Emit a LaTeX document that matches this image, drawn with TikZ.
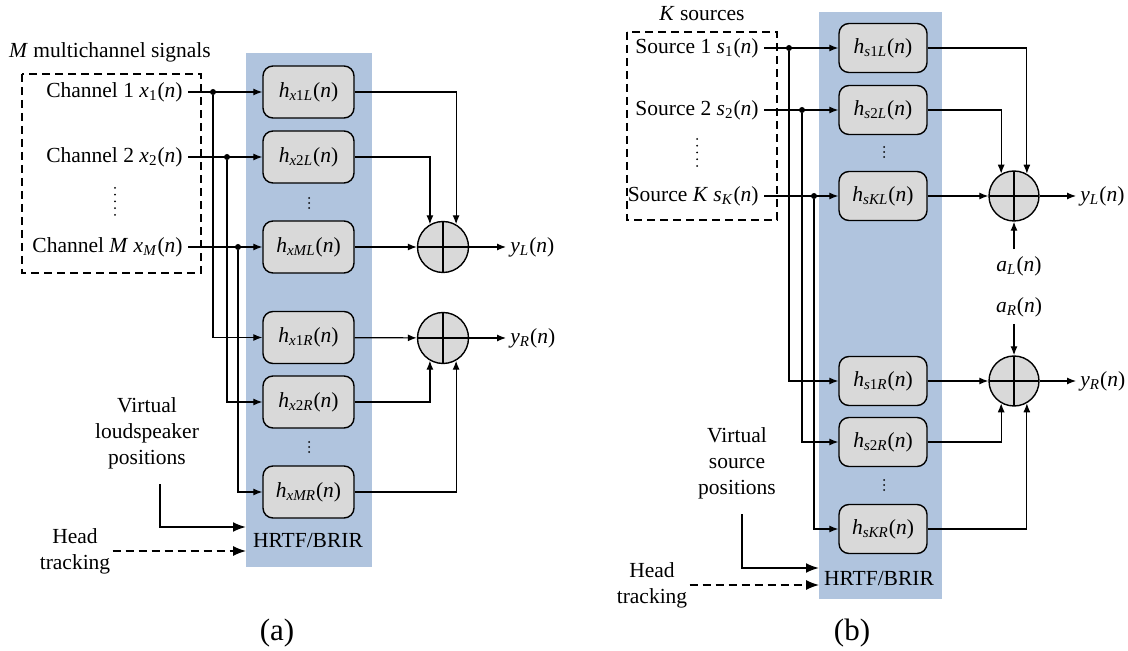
\documentclass[tikz,border=0pt]{standalone}
\usepackage{fontspec}
\setmainfont{Liberation Serif}
\usetikzlibrary{positioning,arrows.meta}
\definecolor{Band}{RGB}{176,196,222}
\definecolor{Fill}{RGB}{217,217,217}
\newcommand{\sg}[2]{\textit{#1}\textsubscript{#2}(\textit{n})}

\begin{document}
\begin{tikzpicture}[x=.5pt,y=-.5pt,font=\fontsize{10.75pt}{13pt}\selectfont,
 box/.style={draw,rounded corners=5pt,fill=Fill,line width=.7pt,minimum width=45.5pt,minimum height=26pt,inner sep=0pt},
 sum/.style={circle,draw,fill=Fill,line width=.7pt,minimum size=25.5pt,inner sep=0pt,
  path picture={\draw[line width=.7pt] (path picture bounding box.north)--(path picture bounding box.south)
   (path picture bounding box.west)--(path picture bounding box.east);}},
 dot/.style={circle,fill,inner sep=0pt,minimum size=3pt},
 src/.style={anchor=east,inner sep=2.5pt},
 yo/.style={anchor=west,inner sep=2pt},
 lbl/.style={align=center,inner sep=1pt},
 sublbl/.style={font=\fontsize{15.5pt}{18pt}\selectfont},
 grp/.style={line width=.75pt,dash pattern=on 4pt off 2.5pt},
 a/.style={-{Latex[length=4.5pt,width=3.5pt]},line width=.6pt},
 ta/.style={-{Latex[length=6.5pt,width=5pt]},line width=1pt},
 vd/.style={line width=1pt,line cap=round,dash pattern=on 0pt off 2.5pt}]
\useasboundingbox (0,0) rectangle (1128,651);

% (a) multichannel
\fill[Band] (246,53) rectangle (372,567);
\node at (110,52) {\textit{M} multichannel signals};
\draw[grp] (22,74) rectangle (201,273);
\node[src] (c1) at (188,92) {Channel 1 \sg{x}{1}};
\node[src] (c2) at (188,157) {Channel 2 \sg{x}{2}};
\node[src] (cM) at (188,247) {Channel \textit{M} \sg{x}{\textit{M}}};
\draw[vd,dash pattern=on 0pt off 3.375pt] (115,188) -- (115,215);
\node[dot] (j1) at (213,92) {};
\node[dot] (j2) at (227,157) {};
\node[dot] (jM) at (238,247) {};
\node[box] (hL1) at (308.5,92) {\sg{h}{\textit{x}1\textit{L}}};
\node[box] (hL2) at (308.5,157) {\sg{h}{\textit{x}2\textit{L}}};
\node[box] (hLM) at (308.5,247) {\sg{h}{\textit{xML}}};
\node[box] (hR1) at (308.5,337.5) {\sg{h}{\textit{x}1\textit{R}}};
\node[box] (hR2) at (308.5,402) {\sg{h}{\textit{x}2\textit{R}}};
\node[box] (hRM) at (308.5,492) {\sg{h}{\textit{xMR}}};
\draw[vd] (309,198) -- (309,208);
\draw[vd] (309,442) -- (309,452);
\node[sum] (sL) at (443,247) {};
\node[sum] (sR) at (443,338) {};
\node[yo] (yL) at (506,247) {\sg{y}{\textit{L}}};
\node[yo] (yR) at (506,338) {\sg{y}{\textit{R}}};
\draw[a] (c1) -- (hL1); \draw[a] (c2) -- (hL2); \draw[a] (cM) -- (hLM);
\draw[a] (j1) |- (hR1); \draw[a] (j2) |- (hR2); \draw[a] (jM) |- (hRM);
\draw[a] (hL1) -| (sL.60); \draw[a] (hL2) -| (sL.120); \draw[a] (hLM) -- (sL);
\draw[a] (hR1) -- (sR); \draw[a] (hR2) -| (sR.240); \draw[a] (hRM) -| (sR.300);
\draw[a] (sL) -- (yL); \draw[a] (sR) -- (yR);
\node[lbl] (vp) at (147,433) {Virtual\\loudspeaker\\positions};
\coordinate (va) at (246,527);
\draw[ta] ([xshift=6.5pt,yshift=-6.5pt]vp.south) |- (va);
\node[lbl] (ht) at (75,551) {Head\\tracking};
\coordinate (ha) at (246,551);
\draw[ta,line width=.7pt,dash pattern=on 4pt off 2.5pt] (ht) -- (ha);
\node (hb) at (308,541) {HRTF/BRIR};
\node[sublbl] (la) at (277,633) {(a)};

% (b) object based
\fill[Band] (819,12) rectangle (942,599);
\node at (702,14) {\textit{K} sources};
\draw[grp] (627,32) rectangle (777,220);
\node[src] (s1) at (764,48) {Source 1 \sg{s}{1}};
\node[src] (s2) at (764,110) {Source 2 \sg{s}{2}};
\node[src] (sK) at (764,196) {Source \textit{K} \sg{s}{\textit{K}}};
\draw[vd,dash pattern=on 0pt off 3.375pt] (697,139) -- (697,166);
\node[dot] (k1) at (789,48) {};
\node[dot] (k2) at (802,110) {};
\node[dot] (kK) at (814,196) {};
\begin{scope}[box/.append style={minimum width=44pt,minimum height=24.5pt}]
\node[box] (gL1) at (883,48) {\sg{h}{\textit{s}1\textit{L}}};
\node[box] (gL2) at (883,110) {\sg{h}{\textit{s}2\textit{L}}};
\node[box] (gLK) at (883,196) {\sg{h}{\textit{sKL}}};
\node[box] (gR1) at (883,381) {\sg{h}{\textit{s}1\textit{R}}};
\node[box] (gR2) at (883,442) {\sg{h}{\textit{s}2\textit{R}}};
\node[box] (gRK) at (883,529) {\sg{h}{\textit{sKR}}};
\end{scope}
\draw[vd] (884,147) -- (884,157);
\draw[vd] (884,480) -- (884,490);
\node[sum,minimum size=25pt] (tL) at (1014,196) {};
\node[sum,minimum size=25pt] (tR) at (1014,381) {};
\node[yo] (zL) at (1076,196) {\sg{y}{\textit{L}}};
\node[yo] (zR) at (1076,381) {\sg{y}{\textit{R}}};
\node (aL) at (1019,266) {\sg{a}{\textit{L}}};
\node (aR) at (1019,307) {\sg{a}{\textit{R}}};
\draw[a] (s1) -- (gL1); \draw[a] (s2) -- (gL2); \draw[a] (sK) -- (gLK);
\draw[a] (k1) |- (gR1); \draw[a] (k2) |- (gR2); \draw[a] (kK) |- (gRK);
\draw[a] (gL1) -| (tL.60); \draw[a] (gL2) -| (tL.120); \draw[a] (gLK) -- (tL);
\draw[a] (gR1) -- (tR); \draw[a] (gR2) -| (tR.240); \draw[a] (gRK) -| (tR.300);
\draw[a] (tL) -- (zL); \draw[a] (tR) -- (zR);
\draw[a] (aL.north -| tL) -- (tL);
\draw[a] (aR.south -| tR) -- (tR);
\node[lbl] (vs) at (737,463) {Virtual\\source\\positions};
\coordinate (vb) at (819,568);
\draw[ta] ([xshift=2.5pt,yshift=-6.5pt]vs.south) |- (vb);
\node[lbl] (hu) at (652,585) {Head\\tracking};
\coordinate (hc) at (819,585);
\draw[ta,line width=.7pt,dash pattern=on 4pt off 2.5pt] (hu) -- (hc);
\node (hd) at (879,579) {HRTF/BRIR};
\node[sublbl] (lb) at (852,633) {(b)};
\end{tikzpicture}
\end{document}
